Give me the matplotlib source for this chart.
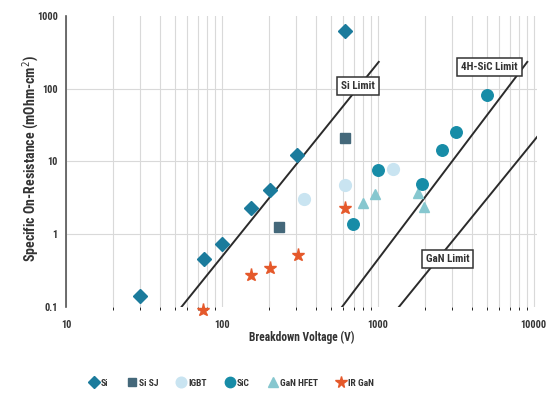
import matplotlib
matplotlib.use("Agg")
import matplotlib.pyplot as plt
from matplotlib import font_manager
from matplotlib.ticker import FixedLocator, LogLocator, NullFormatter, NullLocator

# Device data: breakdown voltage (V) vs specific on-resistance (mOhm-cm^2)
si_v = [30, 77, 100, 153, 203, 303, 614]
si_r = [0.14, 0.46, 0.74, 2.3, 4.1, 12.3, 620]

sisj_v = [232, 614]
sisj_r = [1.26, 21]

igbt_v = [336, 614, 1250]
igbt_r = [3.05, 4.75, 7.9]

sic_v = [692, 1000, 1914, 2570, 3160, 5000]
sic_r = [1.38, 7.6, 4.9, 14.4, 25.4, 82]

ganhfet_v = [801, 956, 1803, 1972]
ganhfet_r = [2.7, 3.6, 3.7, 2.4]

irgan_v = [76, 153, 203, 307, 614]
irgan_r = [0.091, 0.275, 0.344, 0.52, 2.3]

# Theoretical material limits (end points of each line)
si_limit_v = [55, 1014]
si_limit_r = [0.1, 234]
sic_limit_v = [589, 9100]
sic_limit_r = [0.1, 234]
gan_limit_v = [1365, 10500]
gan_limit_r = [0.1, 21.7]

x_ticks = [10, 100, 1000, 10000]
x_tick_labels = ["10", "100", "1000", "10000"]
y_ticks = [0.1, 1, 10, 100, 1000]
y_tick_labels = ["0.1", "1", "10", "100", "1000"]

# prefer a narrow face when one is installed
names = {f.name for f in font_manager.fontManager.ttflist}
narrow = [n for n in ["Liberation Sans Narrow", "Roboto Condensed", "Open Sans Condensed",
                      "DejaVu Sans Condensed"] if n in names]
plt.rcParams["font.family"] = narrow + ["DejaVu Sans"]
plt.rcParams["font.stretch"] = "condensed"

fig = plt.figure(figsize=(5.46, 4.01), dpi=100)
ax = fig.add_axes([66 / 546, 1 - 307 / 401, (537 - 66) / 546, (307 - 16) / 401])
ax.set_xscale("log")
ax.set_yscale("log")
ax.set_xlim(10, 10500)
ax.set_ylim(0.1, 1000)

grid_c = "#d9d9d9"
ax.xaxis.set_major_locator(FixedLocator(x_ticks))
ax.xaxis.set_minor_locator(LogLocator(base=10, subs=range(2, 10)))
ax.xaxis.set_minor_formatter(NullFormatter())
ax.yaxis.set_major_locator(FixedLocator(y_ticks))
ax.yaxis.set_minor_locator(NullLocator())
ax.grid(True, axis="x", which="both", color=grid_c, lw=0.8, zorder=0)
for yv in [1, 10, 100]:
    ax.axhline(yv, color=grid_c, lw=0.8, zorder=0)

ax.set_xticklabels(x_tick_labels)
ax.set_yticklabels(y_tick_labels)
ax.tick_params(axis="both", length=0, labelsize=7.5, labelcolor="#333333")
ax.tick_params(axis="x", pad=9)
ax.tick_params(axis="y", pad=6)
for lab in ax.get_xticklabels() + ax.get_yticklabels():
    lab.set_fontweight("bold")

for s in ["top", "right", "bottom"]:
    ax.spines[s].set_visible(False)
ax.spines["left"].set_color("#555555")
ax.spines["left"].set_linewidth(1.2)

# limit lines
line_kw = dict(color="#2b2b2b", lw=1.4, zorder=2)
ax.plot(si_limit_v, si_limit_r, **line_kw)
ax.plot(sic_limit_v, sic_limit_r, **line_kw)
ax.plot(gan_limit_v, gan_limit_r, **line_kw)

box = dict(boxstyle="square,pad=0.35", fc="white", ec="#333333", lw=1.1)
txt_kw = dict(fontsize=8, fontweight="bold", color="#333333", ha="center",
              va="center", bbox=box, zorder=5)
ax.text(745, 110, "Si Limit", **txt_kw)
ax.text(5200, 199, "4H-SiC Limit", **txt_kw)
ax.text(2800, 0.46, "GaN Limit", **txt_kw)

# device series
c_si = "#1b7b9c"
c_sisj = "#44687a"
c_igbt = "#c9e4f1"
c_sic = "#178ca7"
c_gan = "#86c7cf"
c_ir = "#e5592b"
mk = dict(ls="none", clip_on=False)
ax.plot(si_v, si_r, marker="D", ms=7.3, color=c_si, zorder=4, label="Si", **mk)
ax.plot(sisj_v, sisj_r, marker="s", ms=6.5, color=c_sisj, zorder=4, label="Si SJ", **mk)
ax.plot(igbt_v, igbt_r, marker="o", ms=8.5, color=c_igbt, zorder=3, label="IGBT", **mk)
ax.plot(sic_v, sic_r, marker="o", ms=8.3, color=c_sic, zorder=4, label="SiC", **mk)
ax.plot(ganhfet_v, ganhfet_r, marker="^", ms=7.5, color=c_gan, zorder=3, label="GaN HFET", **mk)
ax.plot(irgan_v, irgan_r, marker="*", ms=9.5, color=c_ir, zorder=4, label="IR GaN", **mk)

ax.set_xlabel("Breakdown Voltage (V)", fontsize=8.3, fontweight="bold", color="#333333", labelpad=1)
ax.set_ylabel("Specific On-Resistance (mOhm-cm$^2$)", fontsize=10, fontweight="bold",
              color="#333333")
ax.yaxis.set_label_coords(-0.052, 0.51)

handles, labels = ax.get_legend_handles_labels()
leg = fig.legend(handles, labels, loc="center", bbox_to_anchor=(232 / 546, 1 - 383 / 401),
                 ncol=6, frameon=False, fontsize=6.8, handlelength=0.9, handletextpad=0.3,
                 columnspacing=2.0, markerscale=0.9)
for t in leg.get_texts():
    t.set_fontweight("bold")
    t.set_color("#333333")

fig.savefig("out.png", dpi=100)
